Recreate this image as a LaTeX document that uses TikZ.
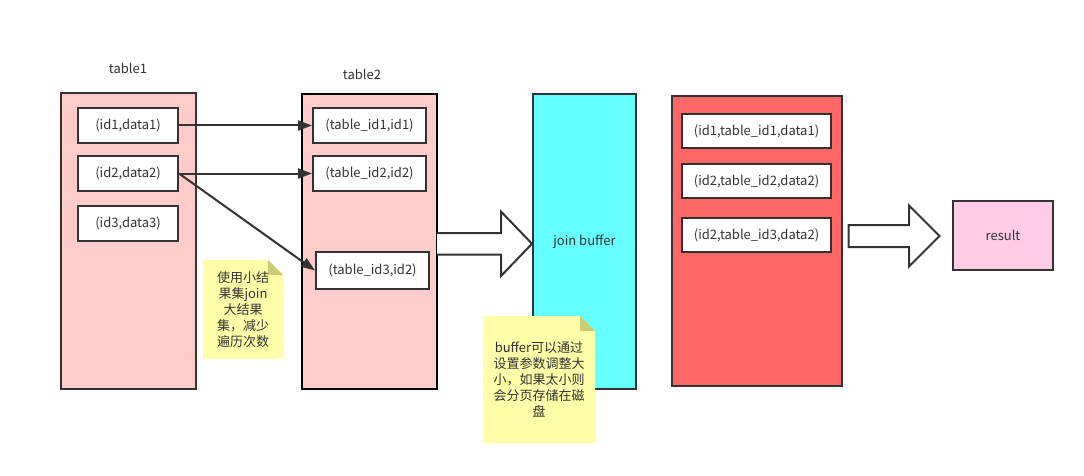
\documentclass[tikz,border=0pt]{standalone}
\usepackage{fontspec}
\setmainfont{Noto Sans CJK SC}
\usetikzlibrary{arrows.meta}
\definecolor{rowpink}{HTML}{FFCCCC}
\definecolor{bufcyan}{HTML}{66FFFF}
\definecolor{outred}{HTML}{FF6666}
\definecolor{respink}{HTML}{FFCCE6}
\definecolor{noteyellow}{HTML}{FFFFAA}
\definecolor{notefold}{HTML}{CCCC77}
\definecolor{darkline}{HTML}{333333}
\tikzset{box/.style = {draw=darkline, line width=2pt, inner sep=0pt, text=darkline},
         tablebox/.style = {box, fill=rowpink},
         row/.style = {box, fill=white},
         link/.style = {draw=darkline, line width=2pt, -{Triangle[length=14pt,width=10pt]}},
         hollow/.style = {draw=darkline, line width=2pt, fill=white, line join=miter},
         note/.style = {inner sep=0pt, align=center, text=darkline,
                        path picture={
                          \fill[noteyellow] (path picture bounding box.north west)
                            -- ([xshift=-15pt]path picture bounding box.north east)
                            -- ([yshift=-15pt]path picture bounding box.north east)
                            -- (path picture bounding box.south east)
                            -- (path picture bounding box.south west) -- cycle;
                          \fill[notefold] ([xshift=-15pt]path picture bounding box.north east)
                            -- ([xshift=-15pt,yshift=-15pt]path picture bounding box.north east)
                            -- ([yshift=-15pt]path picture bounding box.north east) -- cycle;}}}

\begin{document}
\begin{tikzpicture}[x=1pt, y=-1pt, font=\fontsize{13}{16}\selectfont]
    \useasboundingbox (0,0) rectangle (1084,476);

    % table1
    \node[text=darkline] (t1label) at (128,68) {table1};
    \node[tablebox, minimum width=135pt, minimum height=296pt] (t1) at (128.5,241) {};
    \node[row, minimum width=100pt, minimum height=35pt] (a1) at (128,125.5) {(id1,data1)};
    \node[row, minimum width=100pt, minimum height=35pt] (a2) at (128,173.5) {(id2,data2)};
    \node[row, minimum width=100pt, minimum height=35pt] (a3) at (128,223.5) {(id3,data3)};

    % table2
    \node[text=darkline] (t2label) at (362,74) {table2};
    \node[tablebox, draw=black, line width=2.6pt, minimum width=135pt, minimum height=295pt] (t2) at (369.5,241.5) {};
    \node[row, minimum width=113pt, minimum height=35pt] (b1) at (369.5,125.5) {(table\_id1,id1)};
    \node[row, minimum width=113pt, minimum height=35pt] (b2) at (369.5,173.5) {(table\_id2,id2)};
    \node[row, minimum width=113pt, minimum height=37pt] (b3) at (372.5,270.5) {(table\_id3,id2)};

    \draw[link] (a1.east) -- (b1.west);
    \draw[link] (a2.east) -- (b2.west);
    \draw[link] (a2.east) -- (b3.west);

    \node[note, minimum width=80pt, minimum height=99pt] (n1) at (243,309.5)
        {使用小结\\果集join\\大结果\\集，减少\\遍历次数};

    % join buffer
    \node[box, fill=bufcyan, minimum width=103pt, minimum height=295pt] (buf) at (584.5,241.5) {join buffer};
    \draw[hollow] (437,233) -- (501,233) -- (501,211.5) -- (532,243.75)
        -- (501,276) -- (501,254.5) -- (437,254.5);

    \node[note, minimum width=112pt, minimum height=127pt] (n2) at (539,379.5)
        {buffer可以通过\\设置参数调整大\\小，如果太小则\\会分页存储在磁\\盘};

    % joined rows
    \node[box, fill=outred, minimum width=170pt, minimum height=290pt] (out) at (757,241) {};
    \node[row, minimum width=149pt, minimum height=34pt] (c1) at (756.5,131) {(id1,table\_id1,data1)};
    \node[row, minimum width=149pt, minimum height=34pt] (c2) at (756.5,181) {(id2,table\_id2,data2)};
    \node[row, minimum width=149pt, minimum height=34pt] (c3) at (756.5,235) {(id2,table\_id3,data2)};

    \draw[hollow] (848.5,225) -- (909,225) -- (909,205.5) -- (939.5,236)
        -- (909,266.5) -- (909,247) -- (848.5,247) -- cycle;

    \node[box, fill=respink, minimum width=100pt, minimum height=69pt] (res) at (1003,235.5) {result};
  \end{tikzpicture}
\end{document}
